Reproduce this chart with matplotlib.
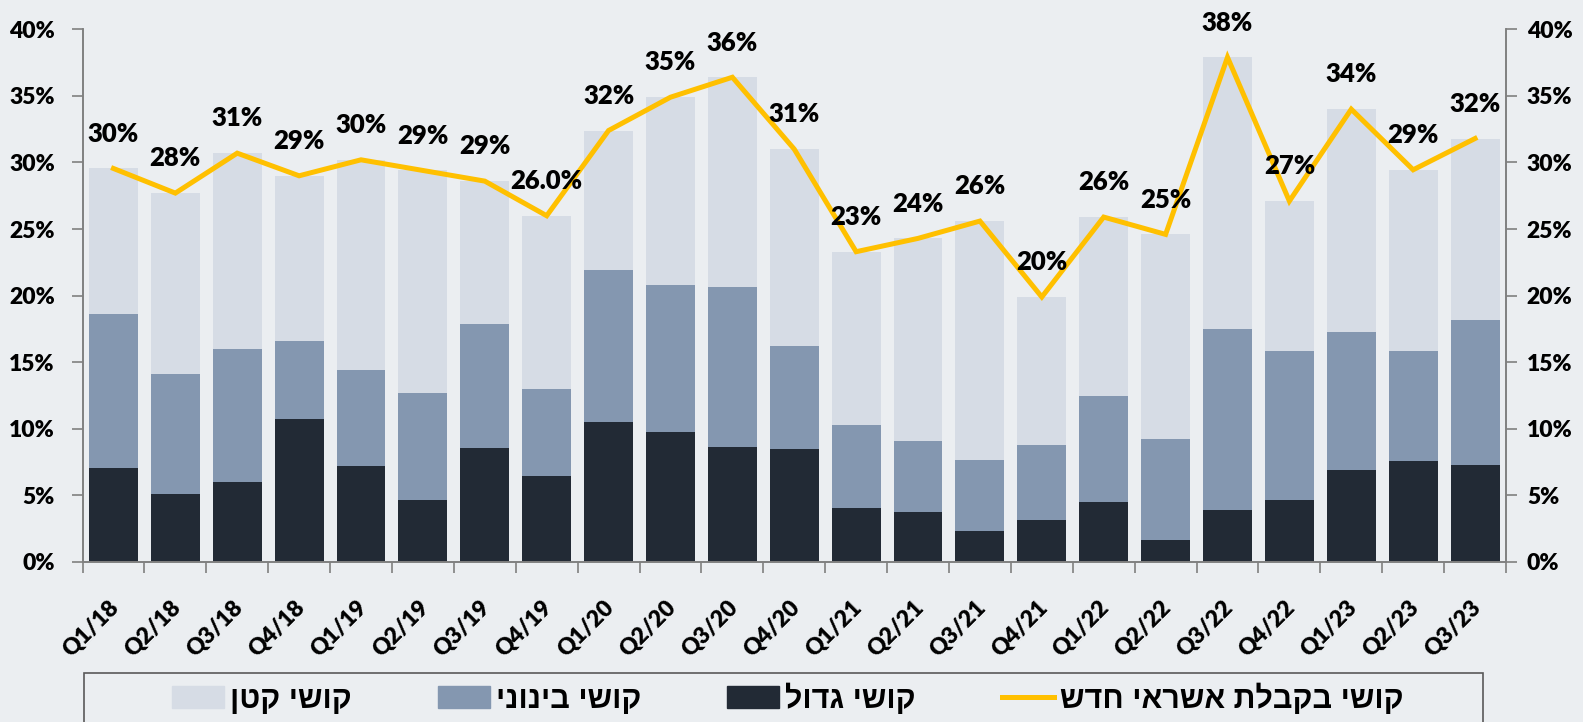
import numpy as np
import matplotlib.pyplot as plt
from matplotlib.patches import Patch, Rectangle
from matplotlib.lines import Line2D
from matplotlib.font_manager import FontProperties
from matplotlib.transforms import ScaledTranslation

quarters = ['Q1/18', 'Q2/18', 'Q3/18', 'Q4/18', 'Q1/19', 'Q2/19', 'Q3/19', 'Q4/19',
            'Q1/20', 'Q2/20', 'Q3/20', 'Q4/20', 'Q1/21', 'Q2/21', 'Q3/21', 'Q4/21',
            'Q1/22', 'Q2/22', 'Q3/22', 'Q4/22', 'Q1/23', 'Q2/23', 'Q3/23']

# share of firms (%) by difficulty level
big = [7.07, 5.08, 6.02, 10.71, 7.18, 4.66, 8.57, 6.46, 10.49, 9.79, 8.60, 8.52,
       4.08, 3.77, 2.30, 3.16, 4.47, 1.66, 3.88, 4.66, 6.88, 7.55, 7.30]
medium = [11.52, 9.01, 9.96, 5.88, 7.24, 8.04, 9.29, 6.52, 11.40, 11.01, 12.07, 7.68,
          6.21, 5.33, 5.36, 5.63, 7.98, 7.60, 13.62, 11.21, 10.37, 8.29, 10.87]
small = [10.96, 13.61, 14.72, 12.41, 15.78, 16.70, 10.74, 13.02, 10.51, 14.10, 15.73, 14.80,
         13.01, 15.20, 17.94, 11.11, 13.45, 15.34, 20.40, 11.23, 16.75, 13.61, 13.63]
total = [29.55, 27.7, 30.7, 29.0, 30.2, 29.4, 28.6, 26.0, 32.4, 34.9, 36.4, 31.0,
         23.3, 24.3, 25.6, 19.9, 25.9, 24.6, 37.9, 27.1, 34.0, 29.45, 31.8]
point_labels = ['30%', '28%', '31%', '29%', '30%', '29%', '29%', '26.0%', '32%', '35%', '36%', '31%',
                '23%', '24%', '26%', '20%', '26%', '25%', '38%', '27%', '34%', '29%', '32%']

legend_labels = ['קושי קטן', 'קושי בינוני', 'קושי גדול', 'קושי בקבלת אשראי חדש']

bg = '#EBEEF1'
c_dark = '#222A35'
c_mid = '#8497B0'
c_light = '#D6DCE5'
c_line = '#FFC000'
c_axis = '#808080'
num_weight = 800

W, H = 1583, 722
fig = plt.figure(figsize=(W / 100, H / 100), dpi=100, facecolor=bg)
ax = fig.add_axes([82.5 / W, 160 / H, (1506 - 82.5) / W, (562 - 29.3) / H])
ax.set_facecolor(bg)

x = np.arange(len(quarters))
big = np.array(big)
medium = np.array(medium)
small = np.array(small)

ax.bar(x, big, width=0.79, color=c_dark, zorder=2)
ax.bar(x, medium, width=0.79, bottom=big, color=c_mid, zorder=2)
ax.bar(x, small, width=0.79, bottom=big + medium, color=c_light, zorder=2)
ax.plot(x, total, color=c_line, lw=3.6, zorder=3, solid_joinstyle='miter')

for xi, v, lab in zip(x, total, point_labels):
    ax.annotate(lab, (xi, v), xytext=(0, 25), textcoords='offset points',
                ha='center', va='center', fontsize=18.5, fontweight=num_weight,
                family='Lato', color='black', zorder=4)

ax.set_xlim(-0.5, len(quarters) - 0.5)
ax.set_ylim(0, 40)
yt = np.arange(0, 41, 5)
ax.set_yticks(yt)
ax.set_yticklabels([f'{t}%' for t in yt])

ax.set_xticks(x)
ax.set_xticklabels(quarters, rotation=45, ha='right', va='top', rotation_mode='anchor')
ax.set_xticks(np.arange(-0.5, len(quarters), 1), minor=True)
ax.tick_params(axis='x', which='major', length=0, pad=25)
ax.tick_params(axis='x', which='minor', length=8, width=1.2, color=c_axis, direction='out')
ax.tick_params(axis='y', length=8, width=1.2, color=c_axis, pad=12)

shift = ScaledTranslation(-5 / 100, 0, fig.dpi_scale_trans)
for lbl in ax.get_xticklabels():
    lbl.set_transform(lbl.get_transform() + shift)

for lbl in ax.get_xticklabels() + ax.get_yticklabels():
    lbl.set_fontfamily('Lato')
    lbl.set_fontweight(num_weight)
    lbl.set_fontsize(16.5)

ax.spines['top'].set_visible(False)
for s in ['left', 'right', 'bottom']:
    ax.spines[s].set_color(c_axis)
    ax.spines[s].set_linewidth(1.2)

ax2 = ax.twinx()
ax2.set_ylim(0, 40)
ax2.set_yticks(yt)
ax2.set_yticklabels([f'{t}%' for t in yt], family='Lato', fontweight=num_weight, fontsize=16.5)
ax2.tick_params(axis='y', length=8, width=1.2, color=c_axis, pad=7)
ax2.spines['top'].set_visible(False)
for s in ['left', 'right', 'bottom']:
    ax2.spines[s].set_color(c_axis)
    ax2.spines[s].set_linewidth(1.2)

# legend (hebrew reversed since matplotlib draws left to right)
fs = 22
fs_px = fs * 100 / 72
handles = [Patch(color=c_light), Patch(color=c_mid), Patch(color=c_dark),
           Line2D([], [], color=c_line, lw=3.6)]
fig.legend(handles, [t[::-1] for t in legend_labels], loc='center',
           bbox_to_anchor=(787.5 / W, 1 - 699 / H), ncol=4, frameon=False,
           prop=FontProperties(family='Liberation Sans', weight='bold', size=fs),
           handlelength=52 / fs_px, handleheight=21 / fs_px,
           handletextpad=6 / fs_px, columnspacing=86 / fs_px, borderpad=0)
fig.patches.append(Rectangle((84 / W, -0.05), (1483 - 84) / W, 0.05 + 1 - 673 / H,
                             transform=fig.transFigure, fill=False,
                             edgecolor='#595959', lw=1.2))

fig.savefig('out.png', dpi=100, facecolor=bg)
